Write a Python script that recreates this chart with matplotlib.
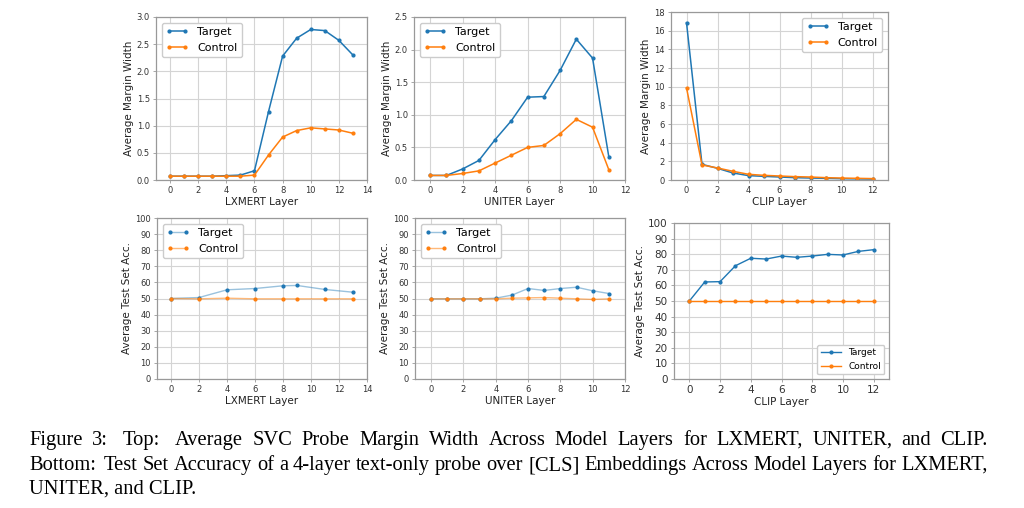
import matplotlib
matplotlib.use('Agg')
import matplotlib.pyplot as plt

W, H = 1024, 508

# ---- data ----
lx_top_layers = list(range(14))
lx_top_target = [0.07, 0.07, 0.07, 0.07, 0.08, 0.09, 0.17, 1.26, 2.28, 2.61, 2.77, 2.75, 2.57, 2.30]
lx_top_control = [0.07, 0.07, 0.07, 0.07, 0.07, 0.07, 0.09, 0.46, 0.79, 0.91, 0.96, 0.94, 0.92, 0.86]

un_top_layers = list(range(12))
un_top_target = [0.07, 0.07, 0.17, 0.30, 0.62, 0.91, 1.27, 1.28, 1.68, 2.16, 1.87, 0.36]
un_top_control = [0.07, 0.07, 0.10, 0.14, 0.26, 0.38, 0.50, 0.53, 0.71, 0.93, 0.81, 0.16]

clip_top_layers = list(range(13))
clip_top_target = [16.86, 1.68, 1.25, 0.75, 0.47, 0.39, 0.32, 0.25, 0.21, 0.18, 0.14, 0.12, 0.10]
clip_top_control = [9.88, 1.61, 1.29, 0.93, 0.61, 0.50, 0.43, 0.36, 0.32, 0.25, 0.21, 0.18, 0.15]

lx_bot_layers = [0, 2, 4, 6, 8, 9, 11, 13]
lx_bot_target = [50.0, 50.6, 55.4, 56.2, 57.9, 58.1, 55.6, 53.9]
lx_bot_control = [50.0, 49.8, 50.2, 49.8, 49.8, 49.8, 49.8, 49.8]

un_bot_layers = list(range(12))
un_bot_target = [49.8, 49.8, 49.8, 49.8, 50.2, 52.1, 56.2, 55.0, 56.2, 57.0, 54.8, 53.1]
un_bot_control = [49.8, 49.8, 49.8, 49.8, 49.8, 50.2, 50.4, 50.6, 50.2, 49.8, 49.4, 49.8]

clip_bot_layers = list(range(13))
clip_bot_target = [50.0, 62.2, 62.4, 72.6, 77.4, 76.9, 78.8, 78.0, 78.8, 79.9, 79.5, 81.8, 82.9]
clip_bot_control = [50.0] * 13

caption = [
    'Figure 3: Top: Average SVC Probe Margin Width Across Model Layers for LXMERT, UNITER, and CLIP.',
    'Bottom: Test Set Accuracy of a 4-layer text-only probe over [CLS] Embeddings Across Model Layers for LXMERT,',
    'UNITER, and CLIP.',
]

BLUE = '#1f77b4'
ORANGE = '#ff7f0e'
SPINE = '#999999'

fig = plt.figure(figsize=(W / 100, H / 100), dpi=100)


def box(l, r, t, b):
    return [l / W, (H - b) / H, (r - l) / W, (b - t) / H]


def style(ax, xlim, ylim, yticks, xlabel, ylabel, tick_fs=6, lab_fs=7.5):
    ax.set_xlim(*xlim)
    ax.set_ylim(*ylim)
    ax.set_yticks(yticks)
    ax.grid(True, color='#d4d4d4', linewidth=0.8)
    ax.set_axisbelow(True)
    for s in ax.spines.values():
        s.set_color(SPINE)
        s.set_linewidth(0.9)
    ax.tick_params(labelsize=tick_fs, length=2.5, width=0.6, color=SPINE,
                   labelcolor='#333333', pad=2)
    ax.set_xlabel(xlabel, fontsize=lab_fs, labelpad=1, color='#222222')
    ax.set_ylabel(ylabel, fontsize=lab_fs, labelpad=2, color='#222222')


def top_plot(rect, x, t, c, xlim, ylim, yticks, xlabel, loc):
    ax = fig.add_axes(rect)
    ax.plot(x, t, color=BLUE, marker='.', markersize=4, linewidth=1.1, label='Target')
    ax.plot(x, c, color=ORANGE, marker='.', markersize=4, linewidth=1.1, label='Control')
    style(ax, xlim, ylim, yticks, xlabel, 'Average Margin Width')
    ax.set_xticks(range(0, int(xlim[1]) + 1, 2))
    ax.legend(loc=loc, fontsize=8, numpoints=2, fancybox=True, framealpha=1,
              edgecolor='#cccccc', handlelength=2.0)
    return ax


def bottom_plot(rect, x, t, c, xlim, xlabel):
    ax = fig.add_axes(rect)
    ax.plot(x, t, color=(0.12, 0.47, 0.71, 0.45), marker='.', markersize=4, linewidth=1.0,
            markerfacecolor=BLUE, markeredgecolor=BLUE, label='Target')
    ax.plot(x, c, color=(1.0, 0.5, 0.05, 0.55), marker='.', markersize=4, linewidth=1.0,
            markerfacecolor=ORANGE, markeredgecolor=ORANGE, label='Control')
    style(ax, xlim, (0, 100), range(0, 101, 10), xlabel, 'Average Test Set Acc.')
    ax.set_xticks(range(0, int(xlim[1]) + 1, 2))
    ax.legend(loc='upper left', fontsize=8, numpoints=2, fancybox=True, framealpha=1,
              edgecolor='#cccccc', handlelength=2.0)
    return ax


top_plot(box(156, 367, 17, 180), lx_top_layers, lx_top_target, lx_top_control,
         (-1, 14), (0, 3.0), [0, 0.5, 1.0, 1.5, 2.0, 2.5, 3.0], 'LXMERT Layer', 'upper left')
top_plot(box(414, 625, 17, 180), un_top_layers, un_top_target, un_top_control,
         (-1, 12), (0, 2.5), [0, 0.5, 1.0, 1.5, 2.0, 2.5], 'UNITER Layer', 'upper left')
top_plot(box(671, 888, 12, 180), clip_top_layers, clip_top_target, clip_top_control,
         (-1, 13), (0, 18), range(0, 19, 2), 'CLIP Layer', 'upper right')

bottom_plot(box(157, 367, 218, 379), lx_bot_layers, lx_bot_target, lx_bot_control,
            (-1, 14), 'LXMERT Layer')
bottom_plot(box(415, 625, 218, 379), un_bot_layers, un_bot_target, un_bot_control,
            (-1, 12), 'UNITER Layer')

ax = fig.add_axes(box(674, 889, 223, 379))
ax.plot(clip_bot_layers, clip_bot_target, color=BLUE, marker='.', markersize=4,
        linewidth=1.0, label='Target')
ax.plot(clip_bot_layers, clip_bot_control, color=ORANGE, marker='.', markersize=4,
        linewidth=1.0, label='Control')
style(ax, (-1, 13), (0, 100), range(0, 101, 10), 'CLIP Layer', 'Average Test Set Acc.',
      tick_fs=7.5, lab_fs=7.5)
ax.set_xticks(range(0, 13, 2))
ax.legend(loc='lower right', fontsize=6.5, numpoints=1, fancybox=True, framealpha=1,
          edgecolor='#cccccc', handlelength=2.2)

# ---- caption, justified like the paper text ----
cap_left, cap_right = 29, 988
baselines = [445, 470, 494]
cap_fs = 14.8
renderer = fig.canvas.get_renderer()
for i, line in enumerate(caption):
    y = 1 - baselines[i] / H
    if i == len(caption) - 1:
        fig.text(cap_left / W, y, line, fontsize=cap_fs, family='Liberation Serif',
                 va='baseline', ha='left')
        continue
    words = line.split(' ')
    arts = [fig.text(0, y, w, fontsize=cap_fs, family='Liberation Serif',
                     va='baseline', ha='left') for w in words]
    widths = [a.get_window_extent(renderer).width for a in arts]
    # wider spaces after colons, as TeX does
    weights = [1.6 if w.endswith(':') else 1.0 for w in words[:-1]]
    unit = (cap_right - cap_left - sum(widths)) / sum(weights)
    xpos = cap_left
    for j, (a, wd) in enumerate(zip(arts, widths)):
        a.set_x(xpos / W)
        if j < len(weights):
            xpos += wd + unit * weights[j]

fig.savefig('out.png', dpi=100)
